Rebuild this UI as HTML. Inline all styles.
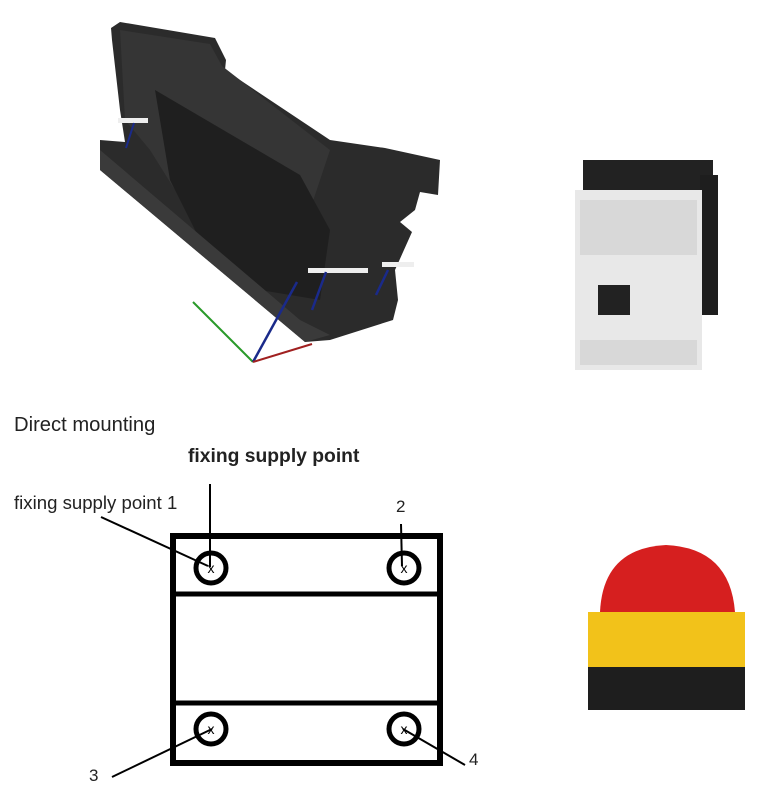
<!DOCTYPE html>
<html><head><meta charset="utf-8"><style>
html,body{margin:0;padding:0;background:#fff;width:771px;height:800px;overflow:hidden}
svg{display:block}
text{font-family:"Liberation Sans",Arial,sans-serif}
</style></head><body>
<svg width="771" height="800" viewBox="0 0 771 800">
<!-- bracket -->
<polygon points="111,28 120,22 215,38 226,60 225,70 330,140 385,148 440,160 438,195 420,192 415,210 400,222 412,232 395,270 398,300 393,320 330,340 305,342 100,170 100,140 125,142 120,110 112,40" fill="#2b2b2b"/>
<polygon points="120,30 210,44 222,66 330,150 300,240 250,260 200,230 150,150 125,120" fill="#353535"/>
<polygon points="155,90 300,175 330,230 320,300 260,290 200,240 170,180" fill="#1f1f1f"/>
<polygon points="100,150 300,320 330,335 305,342 100,170" fill="#3a3a3a"/>
<rect x="118" y="118" width="30" height="5" fill="#eee"/>
<rect x="308" y="268" width="60" height="5" fill="#eee"/>
<rect x="382" y="262" width="32" height="5" fill="#eee"/>
<line x1="253" y1="362" x2="193" y2="302" stroke="#2a9a2a" stroke-width="2"/>
<line x1="253" y1="362" x2="297" y2="282" stroke="#1a2a8a" stroke-width="2.5"/>
<line x1="253" y1="362" x2="312" y2="344" stroke="#a02020" stroke-width="2"/>
<line x1="312" y1="310" x2="326" y2="272" stroke="#1a2a8a" stroke-width="2.5"/>
<line x1="376" y1="295" x2="388" y2="270" stroke="#1a2a8a" stroke-width="2.5"/>
<line x1="126" y1="148" x2="134" y2="123" stroke="#1a2a8a" stroke-width="2"/>
<!-- contactor -->
<rect x="583" y="160" width="130" height="30" fill="#222"/>
<rect x="700" y="175" width="18" height="140" fill="#1e1e1e"/>
<rect x="575" y="190" width="127" height="180" fill="#e8e8e8"/>
<rect x="580" y="200" width="117" height="55" fill="#d8d8d8"/>
<rect x="580" y="340" width="117" height="25" fill="#d8d8d8"/>
<rect x="598" y="285" width="32" height="30" fill="#222"/>
<!-- e-stop -->
<path d="M600,612 Q603,548 666,545 Q730,548 735,612 Z" fill="#d61f1f"/>
<rect x="588" y="612" width="157" height="60" fill="#f2c21a"/>
<rect x="588" y="667" width="157" height="43" fill="#1e1e1e"/>
<!-- text -->
<text x="14" y="431" font-size="20.2" fill="#222">Direct mounting</text>
<text x="188" y="462" font-size="19.3" font-weight="bold" fill="#222">fixing supply point</text>
<text x="14" y="509" font-size="18.6" fill="#222">fixing supply point 1</text>
<text x="396" y="512" font-size="17" fill="#222">2</text>
<text x="89" y="781" font-size="17" fill="#222">3</text>
<text x="469" y="765" font-size="17" fill="#222">4</text>
<!-- diagram -->
<rect x="173" y="536" width="267" height="227" fill="none" stroke="#000" stroke-width="6"/>
<line x1="173" y1="594" x2="440" y2="594" stroke="#000" stroke-width="5"/>
<line x1="173" y1="703" x2="440" y2="703" stroke="#000" stroke-width="5"/>
<g fill="none" stroke="#000" stroke-width="5">
<circle cx="211" cy="568" r="15"/><circle cx="404" cy="568" r="15"/>
<circle cx="211" cy="729" r="15"/><circle cx="404" cy="729" r="15"/>
</g>
<g font-size="14" fill="#000" text-anchor="middle">
<text x="211" y="573">x</text><text x="404" y="573">x</text>
<text x="211" y="734">x</text><text x="404" y="734">x</text>
</g>
<g stroke="#000" stroke-width="2">
<line x1="210" y1="484" x2="210" y2="567"/>
<line x1="101" y1="517" x2="208" y2="566"/>
<line x1="401" y1="524" x2="402" y2="566"/>
<line x1="112" y1="777" x2="212" y2="729"/>
<line x1="465" y1="765" x2="403" y2="729"/>
</g>
</svg>
</body></html>
